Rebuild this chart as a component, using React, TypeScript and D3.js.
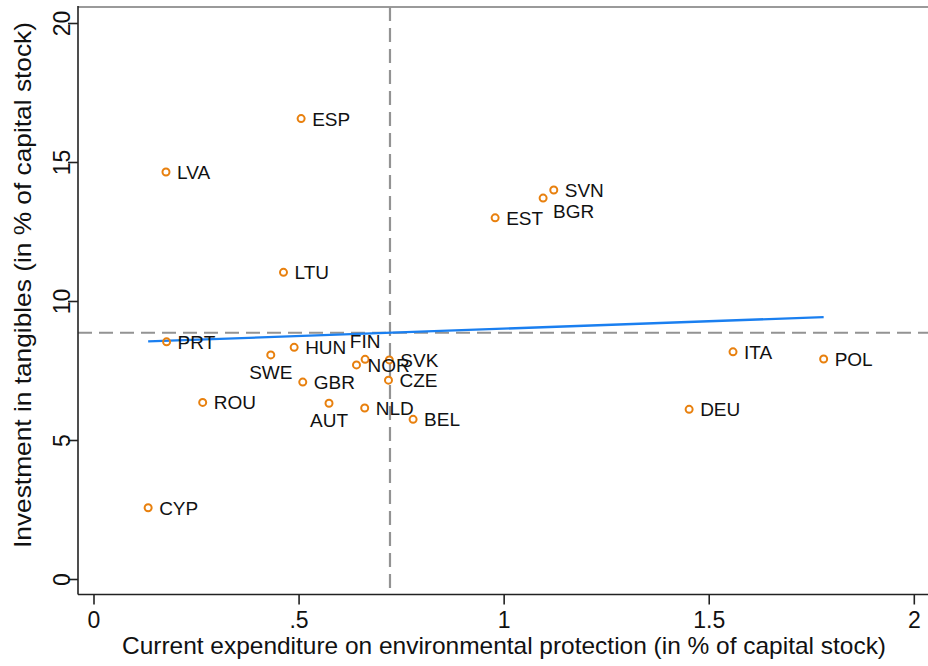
import React from "react";
import * as d3 from "d3";

const countries = ["ESP","LVA","SVN","BGR","EST","LTU","PRT","HUN","SWE","FIN","SVK","NOR","ITA","POL","CZE","GBR","ROU","AUT","NLD","BEL","DEU","CYP"];
const expenditure = [0.505,0.1755,1.121,1.095,0.978,0.462,0.177,0.488,0.431,0.661,0.720,0.640,1.558,1.779,0.718,0.509,0.265,0.573,0.660,0.778,1.451,0.132];
const investment = [16.58,14.66,14.01,13.72,13.01,11.05,8.55,8.35,8.08,7.92,7.90,7.72,8.19,7.93,7.17,7.10,6.37,6.34,6.17,5.76,6.12,2.58];
// label clock positions (3 = right, 6 = below, 12 = above, 4 = below-right)
const labelPos = [3,3,3,4,3,3,3,3,6,12,3,3,3,3,3,3,3,6,3,3,3,3];

const xTicks = [0, 0.5, 1, 1.5, 2];
const xTickLabels = ["0", ".5", "1", "1.5", "2"];
const yTicks = [0, 5, 10, 15, 20];
const yTickLabels = ["0", "5", "10", "15", "20"];

const xTitle = "Current expenditure on environmental protection (in % of capital stock)";
const yTitle = "Investment in tangibles (in % of capital stock)";

export default function App() {
  const W = 928, H = 666;
  const x = d3.scaleLinear().domain([0, 2]).range([94, 914.3]);
  const y = d3.scaleLinear().domain([0, 20]).range([579.5, 23.5]);
  const left = 78, bottom = 594.5, top = 7, right = W;

  const data = countries.map((c, i) => ({ c, x: expenditure[i], y: investment[i], p: labelPos[i] }));
  const mx = d3.mean(expenditure)!;
  const my = d3.mean(investment)!;
  let sxy = 0, sxx = 0;
  data.forEach(d => { sxy += (d.x - mx) * (d.y - my); sxx += (d.x - mx) ** 2; });
  const b = sxy / sxx;
  const a = my - b * mx;
  const [xmin, xmax] = d3.extent(expenditure) as [number, number];
  const fitLine = d3.line<number>().x(v => x(v)).y(v => y(a + b * v))([xmin, xmax]);

  const font = "'Liberation Sans', Arial, Helvetica, sans-serif";

  return (
    <svg width={W} height={H} style={{ position: "fixed", left: 0, top: 0, background: "#fff" }} fontFamily={font}>
      <rect x={0} y={0} width={W} height={H} fill="#fff" />
      {/* frame top */}
      <line x1={left} x2={right} y1={top} y2={top} stroke="#9a9a9a" strokeWidth={2} />
      {/* mean lines */}
      <line x1={x(mx)} x2={x(mx)} y1={top} y2={bottom} stroke="#939393" strokeWidth={2.2} strokeDasharray="14,7" />
      <line x1={left} x2={right} y1={y(my)} y2={y(my)} stroke="#939393" strokeWidth={2.2} strokeDasharray="14,7" />
      {/* fit line */}
      <path d={fitLine || ""} fill="none" stroke="#1a7ff0" strokeWidth={2.3} />
      {/* points */}
      {data.map(d => (
        <circle key={d.c} cx={x(d.x)} cy={y(d.y)} r={3.5} fill="none" stroke="#e8800e" strokeWidth={2} />
      ))}
      {data.map(d => {
        const px = x(d.x), py = y(d.y);
        let tx = px + 11, ty = py + 7, anchor = "start";
        if (d.p === 6) { tx = px; ty = py + 24; anchor = "middle"; }
        else if (d.p === 12) { tx = px; ty = py - 11; anchor = "middle"; }
        else if (d.p === 4) { tx = px + 10; ty = py + 20; anchor = "start"; }
        return (
          <text key={"t" + d.c} x={tx} y={ty} textAnchor={anchor} fontSize={19} fill="#111">{d.c}</text>
        );
      })}
      {/* axes */}
      <line x1={left} x2={left} y1={top - 1} y2={bottom} stroke="#222" strokeWidth={1.6} />
      <line x1={left} x2={right} y1={bottom} y2={bottom} stroke="#222" strokeWidth={1.6} />
      {yTicks.map((t, i) => (
        <g key={"yt" + t}>
          <line x1={left - 10} x2={left} y1={y(t)} y2={y(t)} stroke="#222" strokeWidth={1.6} />
          <text transform={`translate(70,${y(t)}) rotate(-90)`} textAnchor="middle" fontSize={23} fill="#111">{yTickLabels[i]}</text>
        </g>
      ))}
      {xTicks.map((t, i) => (
        <g key={"xt" + t}>
          <line x1={x(t)} x2={x(t)} y1={bottom} y2={bottom + 10} stroke="#222" strokeWidth={1.6} />
          <text x={x(t)} y={628} textAnchor="middle" fontSize={23} fill="#111">{xTickLabels[i]}</text>
        </g>
      ))}
      <text x={504} y={654} textAnchor="middle" fontSize={24} textLength={764} lengthAdjust="spacingAndGlyphs" fill="#111">{xTitle}</text>
      <text transform={`translate(31,285) rotate(-90)`} textAnchor="middle" fontSize={24} textLength={526} lengthAdjust="spacingAndGlyphs" fill="#111">{yTitle}</text>
    </svg>
  );
}
